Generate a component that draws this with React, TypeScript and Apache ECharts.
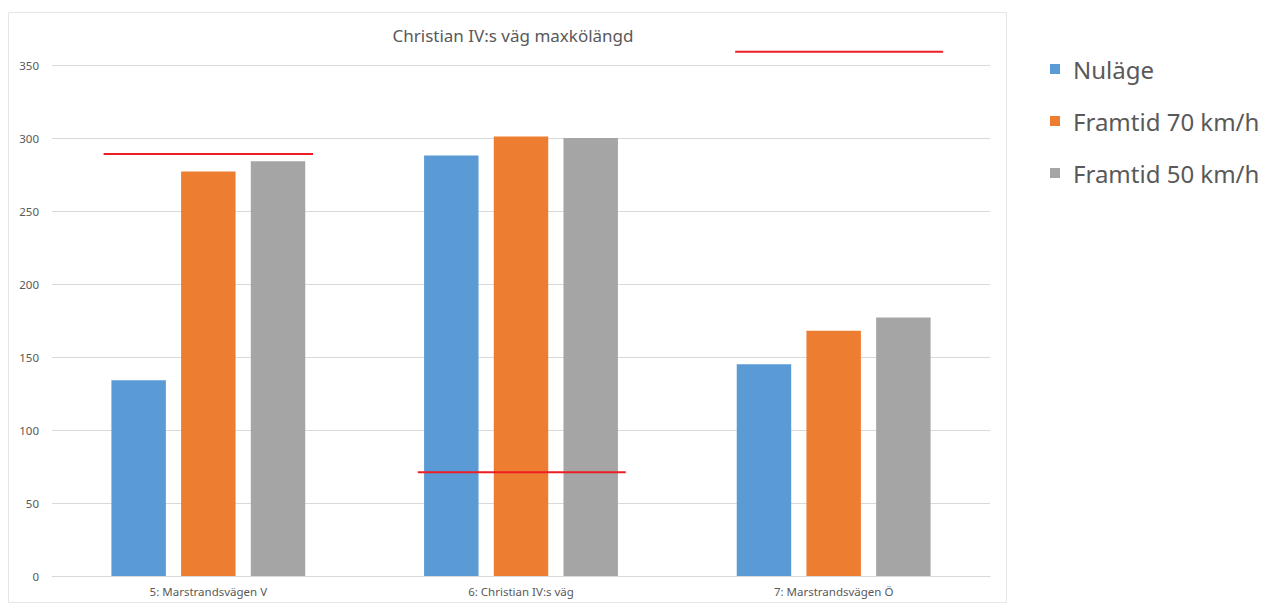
import React, { useEffect, useRef } from "react";
import * as echarts from "echarts";

const categories = ["5: Marstrandsvägen V", "6: Christian IV:s väg", "7: Marstrandsvägen Ö"];
const seriesNames = ["Nuläge", "Framtid 70 km/h", "Framtid 50 km/h"];
const nulage = [134, 288, 145];
const framtid70 = [277, 301, 168];
const framtid50 = [284, 300, 177];
// red limit lines: value and start/end in category units
const redLineValues = [289, 71, 359];
const redLineStart = [-0.335, 0.67, 1.685];
const redLineEnd = [0.335, 1.335, 2.35];
const yTicks = [0, 50, 100, 150, 200, 250, 300, 350];

const colors = ["#5B9BD5", "#ED7D31", "#A5A5A5"];

export default function App() {
  const ref = useRef<HTMLDivElement>(null);
  useEffect(() => {
    if (!ref.current) return;
    const chart = echarts.init(ref.current, undefined, { renderer: "svg" });
    const font = "'Noto Sans', 'DejaVu Sans', sans-serif";
    const redSeries = redLineValues.map((v, i) => ({
      type: "line",
      name: "red" + i,
      xAxisIndex: 1,
      yAxisIndex: 0,
      data: [
        [redLineStart[i], v],
        [redLineEnd[i], v],
      ],
      symbol: "none",
      clip: false,
      lineStyle: { color: "#EE1C25", width: 2 },
      silent: true,
      z: 5,
    }));
    chart.setOption({
      animation: false,
      backgroundColor: "#ffffff",
      title: {
        text: "Christian IV:s väg maxkölängd",
        left: 508,
        textAlign: "center",
        top: 22,
        textStyle: { fontFamily: font, fontSize: 17, fontWeight: "normal", color: "#595959" },
      },
      graphic: [
        {
          type: "rect",
          shape: { x: 8.5, y: 12.5, width: 998, height: 590 },
          style: { fill: "none", stroke: "#E6E6E6", lineWidth: 1 },
          silent: true,
        },
      ],
      legend: {
        data: seriesNames,
        orient: "vertical",
        left: 1045,
        top: 52,
        itemWidth: 10,
        itemHeight: 10,
        itemGap: 28,
        icon: "rect",
        textStyle: { fontFamily: font, fontSize: 24, color: "#595959", padding: [0, 0, 0, 8] },
      },
      grid: { left: 52, right: 294, top: 65, bottom: 29, containLabel: false },
      xAxis: [
        {
          type: "category",
          data: categories,
          axisLine: { lineStyle: { color: "#D9D9D9" } },
          axisTick: { show: false },
          axisLabel: { fontFamily: font, fontSize: 11.5, color: "#595959", margin: 9 },
        },
        {
          type: "value",
          min: -0.5,
          max: 2.5,
          show: false,
        },
      ],
      yAxis: {
        type: "value",
        min: yTicks[0],
        max: yTicks[yTicks.length - 1],
        interval: 50,
        axisLine: { show: false },
        axisTick: { show: false },
        splitLine: { lineStyle: { color: "#D9D9D9" } },
        axisLabel: { fontFamily: font, fontSize: 11.5, color: "#595959", margin: 13 },
      },
      series: [
        {
          type: "bar",
          name: seriesNames[0],
          data: nulage,
          itemStyle: { color: colors[0] },
          barGap: "28%",
          barCategoryGap: "38%",
        },
        { type: "bar", name: seriesNames[1], data: framtid70, itemStyle: { color: colors[1] } },
        { type: "bar", name: seriesNames[2], data: framtid50, itemStyle: { color: colors[2] } },
        ...redSeries,
      ],
    });
    return () => chart.dispose();
  }, []);
  return (
    <div
      ref={ref}
      style={{ position: "absolute", left: 0, top: 0, width: 1284, height: 605 }}
    />
  );
}
